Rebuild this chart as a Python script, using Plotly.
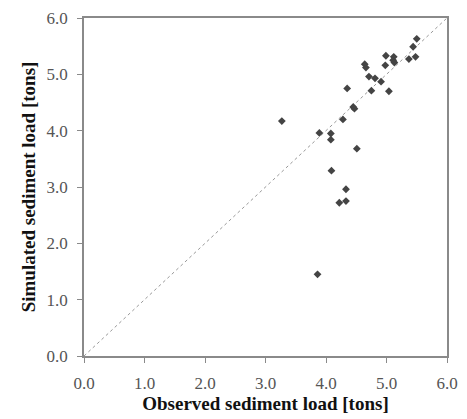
import plotly.graph_objects as go

observed = [5.50, 5.44, 5.48, 5.37, 4.99, 5.12, 5.11, 5.13, 4.98, 4.64, 4.66, 4.71, 4.81, 4.91,
            4.75, 5.04, 4.35, 4.45, 4.47, 4.28, 3.27, 3.89, 4.08, 4.08, 4.51, 4.09, 4.33, 4.33,
            4.22, 3.86]
simulated = [5.63, 5.49, 5.31, 5.27, 5.33, 5.31, 5.25, 5.21, 5.16, 5.18, 5.12, 4.96, 4.93, 4.87,
             4.71, 4.70, 4.75, 4.42, 4.39, 4.20, 4.17, 3.96, 3.95, 3.84, 3.68, 3.29, 2.96, 2.75,
             2.72, 1.45]
line_x = [0.0, 6.0]
line_y = [0.0, 6.0]
tick_vals = [0, 1, 2, 3, 4, 5, 6]
tick_text = ["0.0", "1.0", "2.0", "3.0", "4.0", "5.0", "6.0"]

FONT = "Liberation Serif, Times New Roman, serif"

fig = go.Figure()
fig.add_trace(go.Scatter(x=line_x, y=line_y, mode="lines",
                         line=dict(color="#999999", width=1, dash="dot"),
                         showlegend=False, hoverinfo="skip"))
fig.add_trace(go.Scatter(x=observed, y=simulated, mode="markers",
                         marker=dict(symbol="diamond", size=6, color="#444444"),
                         showlegend=False))

axis_common = dict(range=[0, 6], tickvals=tick_vals, ticktext=tick_text,
                   showgrid=False, zeroline=False, showline=True, mirror=True,
                   linecolor="#8a8a8a", linewidth=1.5, ticks="outside", ticklen=5,
                   tickcolor="#8a8a8a", tickfont=dict(family=FONT, size=17, color="#555555"))

fig.update_layout(
    width=467, height=419,
    margin=dict(l=84, r=9, t=14, b=63),
    paper_bgcolor="white", plot_bgcolor="white",
    xaxis=dict(**axis_common, ticklabelstandoff=6,
               title=dict(text="<b>Observed sediment load [tons]</b>",
                          font=dict(family=FONT, size=19, color="#111111"),
                          standoff=2)),
    yaxis=dict(**axis_common, ticklabelstandoff=6,
               title=dict(text="<b>Simulated sediment load [tons]</b>",
                          font=dict(family=FONT, size=19, color="#111111"),
                          standoff=6)),
)

fig.write_html("out.html")
